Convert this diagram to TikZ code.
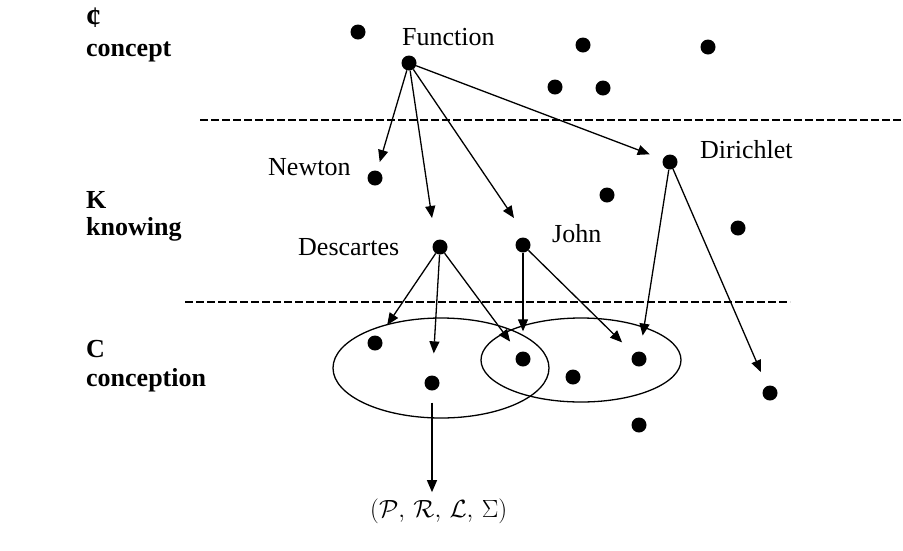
\documentclass[tikz,border=0pt]{standalone}
\usepackage{fontspec}
\setmainfont{Liberation Serif}
\usepackage{tikz}
\usetikzlibrary{arrows.meta}

\begin{document}
\begin{tikzpicture}[
    x=1pt, y=-1pt,
    spot/.style={circle, fill=black, inner sep=0pt, minimum size=15pt},
    lbl/.style={font=\fontsize{26}{29}\selectfont, inner sep=0pt, anchor=base west},
    lvl/.style={font=\fontsize{26}{29}\selectfont\bfseries, inner sep=0pt, anchor=base west},
    arr/.style={line width=1.3pt, -{Triangle[length=12pt,width=10pt]}},
    sep/.style={line width=1.1pt, dash pattern=on 8pt off 3pt},
]
\useasboundingbox (0,0) rectangle (903,550);

% Levels on the left
\node[lvl, font=\fontsize{30}{33}\selectfont\bfseries] (lvl-c) at (86,27) {¢};
\node[lvl] (lvl-concept) at (86,56) {concept};
\node[lvl] (lvl-k) at (86,208) {K};
\node[lvl] (lvl-knowing) at (86,235) {knowing};
\node[lvl] (lvl-cc) at (86,357) {C};
\node[lvl] (lvl-conception) at (86,386) {conception};

% Separating lines
\draw[sep] (200,120) -- (903,120);
\draw[sep] (185,302) -- (790,302);

% Concept level
\node[spot] (s1) at (358,32) {};
\node[spot] (fn) at (409,63) {};
\node[lbl] (fn-txt) at (402,45) {Function};
\node[spot] (s2) at (583,45) {};
\node[spot] (s3) at (708,47) {};
\node[spot] (s4) at (555,87) {};
\node[spot] (s5) at (603,88) {};

% Knowing level
\node[spot] (newton) at (375,178) {};
\node[lbl] (newton-txt) at (268,175) {Newton};
\node[spot] (dirichlet) at (670,162) {};
\node[lbl] (dirichlet-txt) at (700,158) {Dirichlet};
\node[spot] (s6) at (607,195) {};
\node[spot] (s7) at (738,228) {};
\node[spot] (descartes) at (440,247) {};
\node[lbl] (descartes-txt) at (298,255) {Descartes};
\node[spot] (john) at (523,245) {};
\node[lbl] (john-txt) at (552,242) {John};

% Conception level
\draw[line width=1.3pt] (441,368) ellipse [x radius=108, y radius=50];
\draw[line width=1.3pt] (581,360) ellipse [x radius=100, y radius=42];
\node[spot] (c1) at (375,343) {};
\node[spot] (c2) at (432,383) {};
\node[spot] (c3) at (523,359) {};
\node[spot] (c4) at (573,377) {};
\node[spot] (c5) at (639,359) {};
\node[spot] (c6) at (639,425) {};
\node[spot] (c7) at (770,393) {};
\node[lbl] (plrs) at (370,517) {$(\mathcal{P},\,\mathcal{R},\,\mathcal{L},\,\Sigma)$};

% Arrow ends
\coordinate (fn-d) at (432,218);
\coordinate (fn-j) at (514,218);

% From Function
\draw[arr, shorten >=9pt] (fn) -- (newton);
\draw[arr] (fn) -- (fn-d);
\draw[arr] (fn) -- (fn-j);
\draw[arr, shorten >=14pt] (fn) -- (dirichlet);

% From Descartes
\draw[arr, shorten >=14pt] (descartes) -- (c1);
\draw[arr, shorten >=22pt] (descartes) -- (c2);
\draw[arr, shorten >=14pt] (descartes) -- (c3);
\draw[arr, shorten <=12pt, shorten >=6pt] (c2) -- (c2 |- plrs.north);

% From John
\draw[arr, shorten >=20pt] (john) -- (c3);
\draw[arr, shorten >=16pt] (john) -- (c5);

% From Dirichlet
\draw[arr, shorten >=16pt] (dirichlet) -- (c5);
\draw[arr, shorten >=15pt] (dirichlet) -- (c7);
\end{tikzpicture}
\end{document}
